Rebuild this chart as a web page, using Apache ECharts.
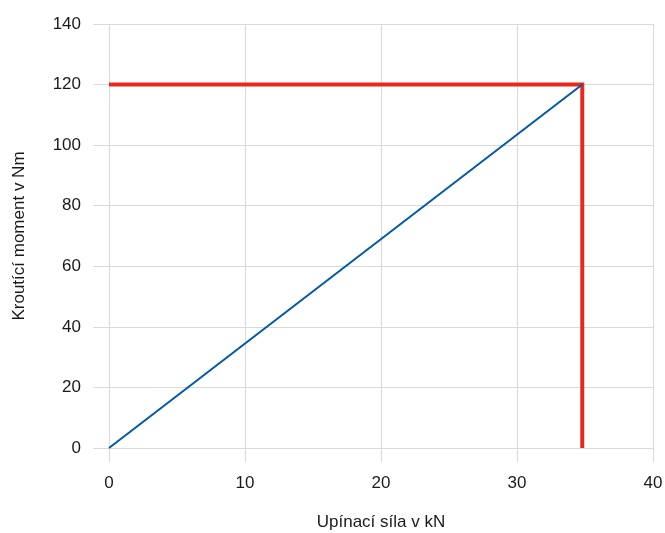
<!DOCTYPE html>
<html>
<head>
<meta charset="utf-8">
<script src="https://cdn.jsdelivr.net/npm/echarts@6/dist/echarts.min.js"></script>
<style>
  html, body { margin: 0; padding: 0; background: #fff; }
  #chart { width: 665px; height: 533px; }
</style>
</head>
<body>
<div id="chart"></div>
<script>
// Data
const forceKN = [0, 34.8];
const torqueNm = [0, 120];
const limitForce = [0, 34.8, 34.8];
const limitTorque = [120, 120, 0];

const fontFamily = "'Liberation Sans Narrow', 'Liberation Sans', Arial, sans-serif";
const gridColor = '#d9d9d9';
const textColor = '#1a1a1a';

const chart = echarts.init(document.getElementById('chart'));

chart.setOption({
  animation: false,
  grid: { left: 109, right: 12, top: 24, bottom: 85, containLabel: false, outerBoundsMode: 'none' },
  xAxis: {
    type: 'value',
    min: 0,
    max: 40,
    interval: 10,
    name: 'Upínací síla v kN',
    nameLocation: 'middle',
    nameGap: 66,
    nameTextStyle: { color: textColor, fontSize: 17, fontFamily },
    axisLine: { show: false },
    axisTick: { show: true, length: 14, lineStyle: { color: gridColor } },
    axisLabel: { color: textColor, fontSize: 17, fontFamily, margin: 27 },
    splitLine: { show: true, lineStyle: { color: gridColor } }
  },
  yAxis: {
    type: 'value',
    min: 0,
    max: 140,
    interval: 20,
    name: 'Kroutící moment v Nm',
    nameLocation: 'middle',
    nameGap: 81,
    nameTextStyle: { color: textColor, fontSize: 17, fontFamily },
    axisLine: { show: false },
    axisTick: { show: true, length: 16, lineStyle: { color: gridColor } },
    axisLabel: { color: textColor, fontSize: 17, fontFamily, margin: 28 },
    splitLine: { show: true, lineStyle: { color: gridColor } }
  },
  series: [
    {
      name: 'Kroutící moment',
      type: 'line',
      data: forceKN.map((f, i) => [f, torqueNm[i]]),
      showSymbol: false,
      lineStyle: { color: '#0058a8', width: 2 },
      z: 3
    },
    {
      name: 'Mez',
      type: 'line',
      data: limitForce.map((f, i) => [f, limitTorque[i]]),
      showSymbol: false,
      lineStyle: { color: '#e8281c', width: 4, cap: 'butt', join: 'miter' },
      z: 2
    }
  ]
});
</script>
</body>
</html>
